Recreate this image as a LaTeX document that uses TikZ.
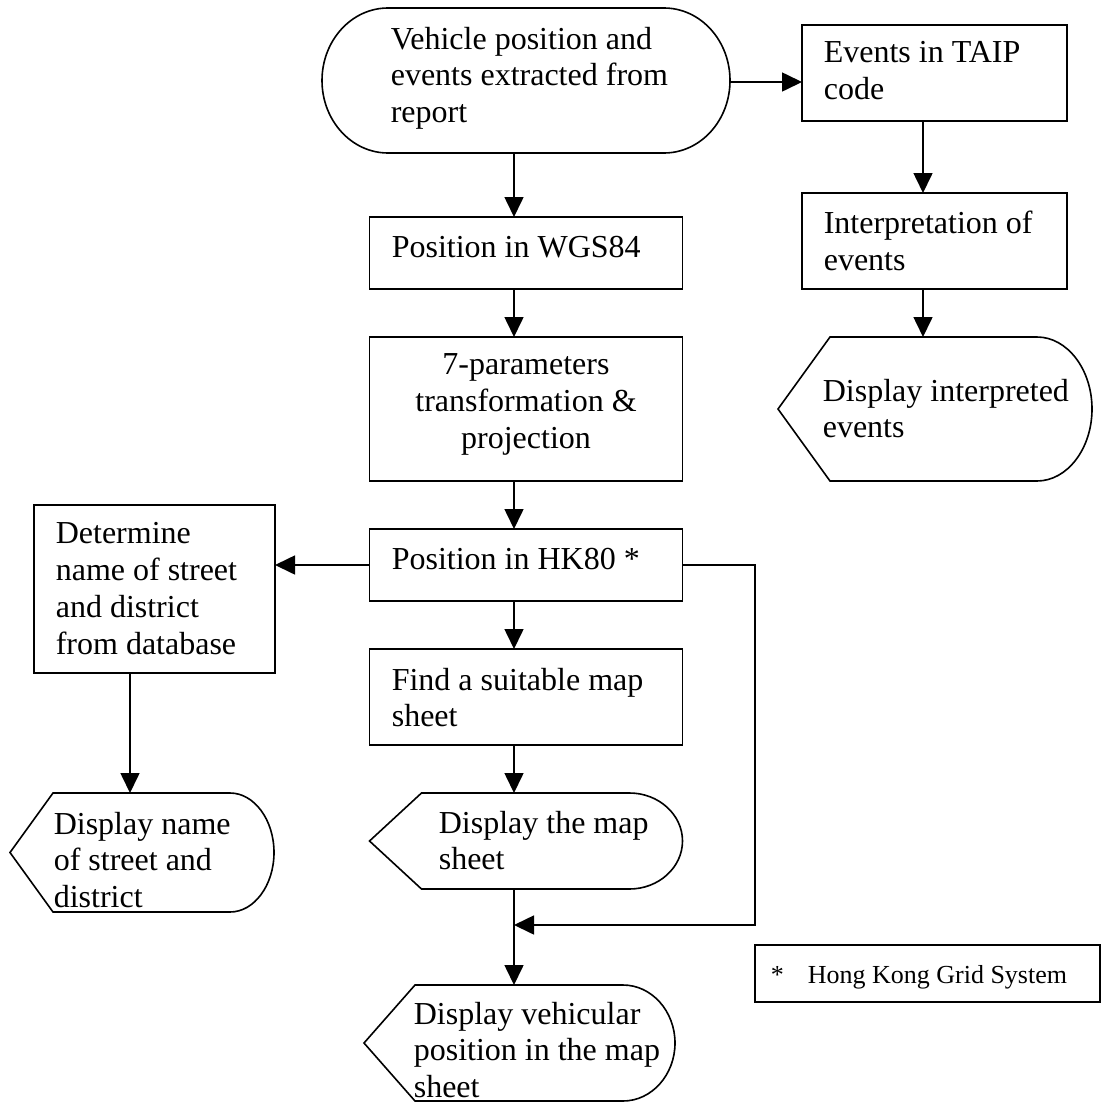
\documentclass[tikz,border=0pt]{standalone}
\usepackage{fontspec}
\setmainfont{Liberation Serif}
\usetikzlibrary{arrows.meta,calc}
\newcommand\dispshape[3]{% node name, slant width, curve width
  \draw let \p1=(#1.north west), \p2=(#1.south east), \p3=(#1.west) in
    (\p3) -- (\x1+#2,\y1) -- (\x2-#3,\y1)
    .. controls (\x2-0.45*#3,\y1) and (\x2,0.55*\y1+0.45*\y3) .. (\x2,\y3)
    .. controls (\x2,0.55*\y2+0.45*\y3) and (\x2-0.45*#3,\y2) .. (\x2-#3,\y2)
    -- (\x1+#2,\y2) -- cycle;}
\begin{document}
\begin{tikzpicture}[x=1pt,y=-1pt,
  line width=1.6pt,
  box/.style={draw, rectangle, inner sep=0pt, outer sep=0pt},
  area/.style={rectangle, inner sep=0pt, outer sep=0pt},
  txt/.style={anchor=north west, inner sep=0pt, align=left, font=\fontsize{32pt}{36.7pt}\selectfont},
  ctxt/.style={anchor=north, inner sep=0pt, align=center, font=\fontsize{32pt}{36.7pt}\selectfont},
  arr/.style={-{Triangle[length=20pt,width=19pt]}},
]
\useasboundingbox (0,0) rectangle (1105,1103);

% terminal
\node[area, minimum width=408pt, minimum height=145pt] (T) at (526,80.5) {};
\draw let \p1=(T.north west), \p2=(T.south east), \p3=(T.west) in
  (\x1+66,\y1) -- (\x2-66,\y1)
  .. controls (\x2-29.5,\y1) and (\x2,\y3+40) .. (\x2,\y3)
  .. controls (\x2,\y3-40) and (\x2-29.5,\y2) .. (\x2-66,\y2)
  -- (\x1+66,\y2)
  .. controls (\x1+29.5,\y2) and (\x1,\y3-40) .. (\x1,\y3)
  .. controls (\x1,\y3+40) and (\x1+29.5,\y1) .. cycle;
\node[txt] (tT) at (390,26) {Vehicle position and\\events extracted from\\report};

% right column
\node[box, minimum width=265pt, minimum height=96pt] (E) at (934.5,73) {};
\node[txt] (tE) at (823,41) {Events in TAIP\\code};
\node[box, minimum width=265pt, minimum height=96pt] (I) at (934.5,241) {};
\node[txt] (tI) at (823,210) {Interpretation of\\events};
\node[area, minimum width=314pt, minimum height=144pt] (DI) at (935,409) {};
\dispshape{DI}{52}{55}
\node[txt] (tDI) at (822,378) {Display interpreted\\events};

% main column
\node[box, minimum width=313pt, minimum height=72pt] (W) at (526,253) {};
\node[txt] (tW) at (391,235) {Position in WGS84};
\node[box, minimum width=313pt, minimum height=144pt] (P) at (526,409) {};
\node[ctxt] (tP) at (526,353) {7-parameters\\transformation \&\\projection};
\node[box, minimum width=313pt, minimum height=72pt] (H) at (526,565) {};
\node[txt] (tH) at (391,547) {Position in HK80 *};
\node[box, minimum width=313pt, minimum height=96pt] (F) at (526,697) {};
\node[txt] (tF) at (391,667) {Find a suitable map\\sheet};
\node[area, minimum width=313pt, minimum height=96pt] (DM) at (526,841) {};
\dispshape{DM}{52}{53}
\node[txt] (tDM) at (438,810) {Display the map\\sheet};
\node[area, minimum width=311pt, minimum height=116pt] (DV) at (519.5,1043) {};
\dispshape{DV}{51}{52}
\node[txt] (tDV) at (413,1001) {Display vehicular\\position in the map\\sheet};

% left column
\node[box, minimum width=241pt, minimum height=168pt] (D) at (154.5,589) {};
\node[txt] (tD) at (55,522) {Determine\\name of street\\and district\\from database};
\node[area, minimum width=264pt, minimum height=119pt] (DN) at (142,852.5) {};
\dispshape{DN}{43}{44}
\node[txt] (tDN) at (53,811) {Display name\\of street and\\district};

% legend
\node[box, minimum width=345pt, minimum height=57pt] (L) at (927.5,973.5) {};
\node[anchor=base west, inner sep=0pt, font=\fontsize{26pt}{30pt}\selectfont] (tL) at (770,983) {*\hspace{24pt}Hong Kong Grid System};

% connectors
\draw[arr] ([yshift=-1.5pt]T.east) -- ([yshift=-1.5pt]T.east -| E.west);
\draw[arr] ([xshift=-11.5pt]E.south) -- ([xshift=-11.5pt]I.north);
\draw[arr] ([xshift=-11.5pt]I.south) -- ([xshift=-12pt]DI.north);
\draw[arr] ([xshift=-12pt]T.south) -- ([xshift=-12pt]W.north);
\draw[arr] ([xshift=-12pt]W.south) -- ([xshift=-12pt]P.north);
\draw[arr] ([xshift=-12pt]P.south) -- ([xshift=-12pt]H.north);
\draw[arr] ([xshift=-12pt]H.south) -- ([xshift=-12pt]F.north);
\draw[arr] ([xshift=-12pt]F.south) -- ([xshift=-12pt]DM.north);
\coordinate (J) at (514,925);
\coordinate (R) at (755,925);
\draw[arr] ([xshift=-12pt]DM.south) -- (J |- DV.north);
\draw[arr] (H.east) -| (R) -- (J);
\draw[arr] (H.west) -- (H.west -| D.east);
\coordinate (dd) at ([xshift=-24.5pt]D.south);
\draw[arr] (dd) -- (dd |- DN.north);
\end{tikzpicture}
\end{document}
